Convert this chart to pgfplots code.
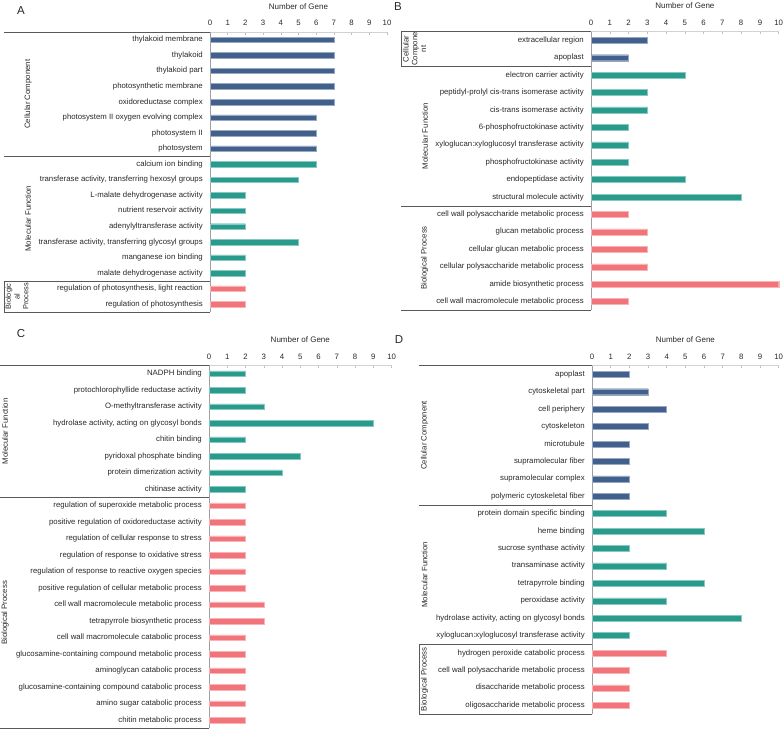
\documentclass[border=0pt]{standalone}
\usepackage{fontspec}
\setmainfont{Liberation Sans}
\usepackage{pgfplots}
\pgfplotsset{compat=1.18}
\definecolor{ccblue}{RGB}{66,96,140}
\definecolor{mfteal}{RGB}{40,155,140}
\definecolor{bppink}{RGB}{240,116,122}
\definecolor{txt}{RGB}{40,40,40}
\pgfplotsset{
  gopanel/.style={
    scale only axis, anchor=north west, xbar,
    xmin=0, xmax=10, xtick={0,...,10},
    axis x line=top, axis y line=left,
    x axis line style={-, draw=gray!35, line width=0.6pt},
    y axis line style={-, draw=gray!75, line width=0.9pt},
    xtick align=inside, major tick length=2.5pt,
    xtick style={draw=gray!50, line width=0.5pt},
    ytick style={draw=none},
    xticklabel style={anchor=center, yshift=9pt, font=\fontsize{7.8}{9}\selectfont, text=txt},
    yticklabel style={xshift=-2.5pt, font=\fontsize{7.8}{9}\selectfont, text=txt},
    /pgf/number format/assume math mode=true,
    title={Number of Gene},
    title style={at={(0.5,1)}, anchor=center, yshift=19.5pt, font=\fontsize{8}{9}\selectfont, text=txt},
    clip=false,
  },
  ccbar/.style={bar shift=0pt, fill=ccblue, draw=ccblue!55!white, line width=0.4pt},
  mfbar/.style={bar shift=0pt, fill=mfteal, draw=mfteal!55!white, line width=0.4pt},
  bpbar/.style={bar shift=0pt, fill=bppink, draw=bppink!55!white, line width=0.4pt},
}
\tikzset{grp/.style={rotate=90, align=center, font=\fontsize{7.8}{8.8}\selectfont, text=txt, inner sep=0pt},
  sep/.style={draw=black!65, line width=0.6pt},
  letter/.style={font=\fontsize{11.5}{12}\selectfont, text=txt, inner sep=0pt}}
\begin{document}
\begin{tikzpicture}
% ---------------- A ----------------
\begin{axis}[gopanel, at={(210pt,-32pt)}, width=177pt, height=280pt,
  ymin=0.5, ymax=18.5, ytick={1,...,18}, bar width=5.5pt,
  yticklabels={{regulation of photosynthesis},{regulation of photosynthesis, light reaction},
    {malate dehydrogenase activity},{manganese ion binding},
    {transferase activity, transferring glycosyl groups},{adenylyltransferase activity},
    {nutrient reservoir activity},{L-malate dehydrogenase activity},
    {transferase activity, transferring hexosyl groups},{calcium ion binding},
    {photosystem},{photosystem II},{photosystem II oxygen evolving complex},
    {oxidoreductase complex},{photosynthetic membrane},{thylakoid part},{thylakoid},
    {thylakoid membrane}}]
\addplot[ccbar] coordinates {(7,18) (7,17) (7,16) (7,15) (7,14) (6,13) (6,12) (6,11)};
\addplot[mfbar] coordinates {(6,10) (5,9) (2,8) (2,7) (2,6) (5,5) (2,4) (2,3)};
\addplot[bpbar] coordinates {(2,2) (2,1)};
\end{axis}
% ---------------- B ----------------
\begin{axis}[gopanel, at={(591pt,-31.6pt)}, width=187.7pt, height=278.7pt,
  ymin=0.5, ymax=16.5, ytick={1,...,16}, bar width=6pt,
  yticklabels={{cell wall macromolecule metabolic process},{amide biosynthetic process},
    {cellular polysaccharide metabolic process},{cellular glucan metabolic process},
    {glucan metabolic process},{cell wall polysaccharide metabolic process},
    {structural molecule activity},{endopeptidase activity},{phosphofructokinase activity},
    {xyloglucan:xyloglucosyl transferase activity},{6-phosphofructokinase activity},
    {cis-trans isomerase activity},{peptidyl-prolyl cis-trans isomerase activity},
    {electron carrier activity},{apoplast},{extracellular region}}]
\addplot[ccbar] coordinates {(3,16) (2,15)};
\addplot[mfbar] coordinates {(5,14) (3,13) (3,12) (2,11) (2,10) (2,9) (5,8) (8,7)};
\addplot[bpbar] coordinates {(2,6) (3,5) (3,4) (3,3) (10,2) (2,1)};
\end{axis}
% ---------------- C ----------------
\begin{axis}[gopanel, at={(209pt,-365.4pt)}, width=182.6pt, height=363pt,
  ymin=0.5, ymax=22.5, ytick={1,...,22}, bar width=5.5pt,
  yticklabels={{chitin metabolic process},{amino sugar catabolic process},
    {glucosamine-containing compound catabolic process},{aminoglycan catabolic process},
    {glucosamine-containing compound metabolic process},{cell wall macromolecule catabolic process},
    {tetrapyrrole biosynthetic process},{cell wall macromolecule metabolic process},
    {positive regulation of cellular metabolic process},
    {regulation of response to reactive oxygen species},
    {regulation of response to oxidative stress},{regulation of cellular response to stress},
    {positive regulation of oxidoreductase activity},{regulation of superoxide metabolic process},
    {chitinase activity},{protein dimerization activity},{pyridoxal phosphate binding},
    {chitin binding},{hydrolase activity, acting on glycosyl bonds},
    {O-methyltransferase activity},{protochlorophyllide reductase activity},{NADPH binding}}]
\addplot[mfbar] coordinates {(2,22) (2,21) (3,20) (9,19) (2,18) (5,17) (4,16) (2,15)};
\addplot[bpbar] coordinates {(2,14) (2,13) (2,12) (2,11) (2,10) (2,9) (3,8) (3,7)
  (2,6) (2,5) (2,4) (2,3) (2,2) (2,1)};
\end{axis}
% ---------------- D ----------------
\begin{axis}[gopanel, at={(592pt,-365.6pt)}, width=186.7pt, height=348.4pt,
  ymin=0.5, ymax=20.5, ytick={1,...,20}, bar width=6pt,
  yticklabels={{oligosaccharide metabolic process},{disaccharide metabolic process},
    {cell wall polysaccharide metabolic process},{hydrogen peroxide catabolic process},
    {xyloglucan:xyloglucosyl transferase activity},{hydrolase activity, acting on glycosyl bonds},
    {peroxidase activity},{tetrapyrrole binding},{transaminase activity},
    {sucrose synthase activity},{heme binding},{protein domain specific binding},
    {polymeric cytoskeletal fiber},{supramolecular complex},{supramolecular fiber},
    {microtubule},{cytoskeleton},{cell periphery},{cytoskeletal part},{apoplast}}]
\addplot[ccbar] coordinates {(2,20) (3,19) (4,18) (3,17) (2,16) (2,15) (2,14) (2,13)};
\addplot[mfbar] coordinates {(4,12) (6,11) (2,10) (4,9) (6,8) (4,7) (8,6) (2,5)};
\addplot[bpbar] coordinates {(4,4) (2,3) (2,2) (2,1)};
\end{axis}
% group frames and labels
% A
\draw[sep] (4pt,-32pt) -- (210pt,-32pt);
\draw[sep] (4pt,-156.4pt) -- (210pt,-156.4pt);
\draw[sep] (4pt,-280.9pt) -- (210pt,-280.9pt);
\draw[sep] (4pt,-312pt) -- (210pt,-312pt);
\draw[sep] (4pt,-280.9pt) -- (4pt,-312pt);
\node[grp] at (28pt,-94.2pt) {Cellular Component};
\node[grp] at (28pt,-218.7pt) {Molecular Function};
\node[grp, font=\fontsize{7.4}{8.8}\selectfont] at (17pt,-296.4pt) {Biologic\\al\\Process};
\node[letter] at (21pt,-11pt) {A};
% B
\draw[sep] (401pt,-31.6pt) -- (591pt,-31.6pt);
\draw[sep] (401pt,-66.4pt) -- (591pt,-66.4pt);
\draw[sep] (401pt,-205.8pt) -- (591pt,-205.8pt);
\draw[sep] (401pt,-310.3pt) -- (591pt,-310.3pt);
\draw[sep] (401pt,-31.6pt) -- (401pt,-66.4pt);
\node[grp] at (414.5pt,-49pt) {Cellular\\Compone\\nt};
\node[grp] at (425pt,-136.1pt) {Molecular Function};
\node[grp] at (424.5pt,-258pt) {Biological Process};
\node[letter] at (398pt,-7pt) {B};
% C
\draw[sep] (0pt,-365.4pt) -- (209pt,-365.4pt);
\draw[sep] (0pt,-497.4pt) -- (209pt,-497.4pt);
\draw[sep] (0pt,-728.4pt) -- (209pt,-728.4pt);
\node[grp] at (5pt,-431.4pt) {Molecular Function};
\node[grp] at (5pt,-612.9pt) {Biological Process};
\node[letter] at (21pt,-334pt) {C};
% D
\draw[sep] (419.3pt,-365.6pt) -- (592pt,-365.6pt);
\draw[sep] (419.3pt,-505pt) -- (592pt,-505pt);
\draw[sep] (419.3pt,-644.3pt) -- (592pt,-644.3pt);
\draw[sep] (419.3pt,-714pt) -- (592pt,-714pt);
\draw[sep] (419.3pt,-644.3pt) -- (419.3pt,-714pt);
\node[grp] at (424.5pt,-435.3pt) {Cellular Component};
\node[grp] at (424.5pt,-574.7pt) {Molecular Function};
\node[grp] at (424.5pt,-679.2pt) {Biological Process};
\node[letter] at (399pt,-340pt) {D};
\pgfresetboundingbox
\path (0pt,0pt) rectangle (784pt,-729pt);
\end{tikzpicture}
\end{document}
